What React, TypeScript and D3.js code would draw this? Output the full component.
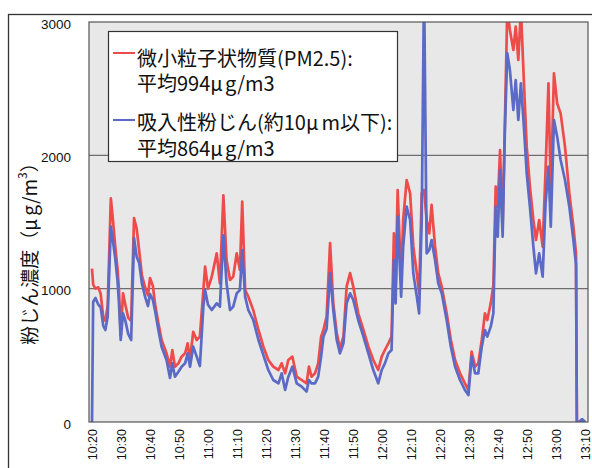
import * as d3 from 'd3';

// minutes after 10:20
const minutes = [0, 0.4, 1.2, 2.2, 3.0, 3.9, 4.6, 5.4, 6.5, 7.2, 8.0, 8.8, 9.3, 9.9, 10.7, 11.5, 12.5, 13.5, 14.5, 15.4, 16.3, 17.2, 18.3, 19.3, 20.0, 21.0, 21.7, 22.9, 24.0, 25.7, 26.9, 27.7, 28.6, 29.8, 30.9, 32.1, 33.0, 33.8, 34.9, 36.1, 37.2, 38.4, 39.0, 40.0, 41.3, 43.0, 44.1, 45.3, 46.4, 47.6, 48.7, 49.9, 51.0, 51.8, 52.8, 53.9, 55.6, 57.4, 59.1, 60.8, 62.5, 64.3, 65.4, 66.6, 67.7, 69.1, 70.6, 72.3, 74.0, 74.8, 75.7, 76.9, 78.0, 79.0, 79.8, 80.9, 82.1, 83.2, 84.4, 85.5, 86.7, 87.8, 89.0, 90.1, 91.8, 93.6, 95.3, 97.0, 98.7, 99.9, 101.0, 102.2, 103.3, 104.1, 104.7, 105.4, 106.6, 107.3, 108.5, 109.7, 110.8, 112.0, 112.8, 113.7, 114.5, 115.4, 116.3, 117.1, 118.3, 119.4, 120.6, 122.3, 123.7, 125.2, 126.9, 128.6, 129.8, 130.9, 132.1, 133.2, 134.4, 135.5, 136.3, 137.5, 138.4, 139.2, 139.9, 140.7, 141.6, 142.4, 143.2, 144.1, 145.3, 146.1, 147.0, 147.9, 149.0, 149.9, 151.0, 152.2, 153.1, 154.2, 155.4, 156.4, 157.4, 158.2, 159.3, 160.4, 161.6, 163.1, 164.6, 166.0, 166.9, 167.2, 168.0, 169.0, 170.0];

const pm25 = [1150, 1030, 1000, 1010, 960, 780, 760, 870, 1677, 1520, 1320, 1150, 990, 650, 965, 880, 780, 760, 1530, 1450, 1280, 1100, 1010, 950, 1080, 1020, 890, 740, 615, 515, 415, 540, 415, 440, 490, 515, 590, 465, 677, 615, 640, 990, 1165, 1000, 1090, 1265, 1040, 1700, 1215, 1065, 1090, 1265, 1140, 1653, 990, 940, 840, 690, 565, 465, 415, 390, 440, 365, 465, 490, 340, 315, 290, 415, 340, 365, 440, 640, 690, 790, 1342, 890, 665, 552, 640, 1015, 1117, 1015, 815, 690, 565, 465, 390, 490, 540, 590, 640, 1415, 1015, 1740, 1065, 1515, 1815, 1715, 1315, 1115, 965, 1715, 1740, 1515, 1415, 1628, 1315, 1115, 1015, 815, 620, 465, 365, 290, 240, 528, 415, 440, 615, 815, 765, 890, 1027, 1765, 1615, 2040, 1465, 2265, 3100, 2940, 2790, 2965, 2715, 3100, 2515, 2065, 1765, 1515, 1365, 1515, 1315, 1890, 2540, 1715, 2615, 2390, 2315, 2065, 1715, 1465, 1265, 0, 0, 20, 0];

const pm10 = [0, 900, 930, 880, 860, 720, 690, 790, 1465, 1360, 1230, 1060, 890, 615, 815, 760, 660, 615, 1380, 1240, 1190, 1040, 940, 870, 960, 915, 840, 690, 565, 465, 330, 440, 340, 377, 415, 440, 515, 415, 565, 490, 420, 865, 990, 880, 840, 890, 865, 1400, 1040, 840, 865, 965, 990, 1290, 940, 840, 765, 615, 502, 390, 315, 290, 365, 240, 340, 415, 290, 265, 228, 315, 290, 290, 340, 490, 640, 700, 1117, 840, 615, 515, 590, 890, 965, 915, 765, 640, 515, 390, 290, 390, 440, 515, 540, 1215, 890, 1540, 940, 1315, 1615, 1515, 1115, 940, 815, 1515, 3300, 1265, 1290, 1365, 1215, 1040, 965, 765, 570, 415, 315, 240, 202, 490, 365, 365, 565, 690, 640, 715, 815, 1615, 1390, 1890, 1390, 2215, 2765, 2640, 2340, 2565, 2265, 2540, 2190, 1865, 1615, 1315, 1115, 1265, 1090, 1640, 1915, 1465, 2265, 2140, 1965, 1815, 1615, 1365, 1180, 0, 0, 20, 0];

const tickLabels = ['10:20', '10:30', '10:40', '10:50', '11:00', '11:10', '11:20', '11:30', '11:40', '11:50', '12:00', '12:10', '12:20', '12:30', '12:40', '12:50', '13:00', '13:10'];
const yTicks = [0, 1000, 2000, 3000];

const RED = '#ee4b4b';
const BLUE = '#5a6ac6';
const JP = '"Noto Sans CJK JP", "Noto Sans", sans-serif';
const NUM = '"Liberation Sans", Arial, sans-serif';

export default function App() {
  const left = 89, right = 588, top = 22, bottom = 422;
  const x = d3.scaleLinear().domain([0, 170]).range([92, 585]);
  const y = d3.scaleLinear().domain([0, 3000]).range([bottom, top]);
  const line = (vals: number[]) =>
    d3.line<number>().x((_, i) => x(minutes[i])).y(d => y(d))(vals) || '';

  return (
    <svg width={592} height={468} style={{ position: 'absolute', left: 0, top: 0, background: '#fff' }}>
      <defs>
        <clipPath id="plot">
          <rect x={left} y={top} width={right - left} height={bottom - top} />
        </clipPath>
      </defs>
      <rect x={8.5} y={14.5} width={620} height={480} fill="#fff" stroke="#333" strokeWidth={1.3} />
      <rect x={left} y={top} width={right - left} height={bottom - top} fill="#e8e8e8" />
      {[1000, 2000].map(v => (
        <line key={v} x1={left} x2={right} y1={y(v)} y2={y(v)} stroke="#6e6e6e" strokeWidth={1.2} />
      ))}
      <g clipPath="url(#plot)" fill="none" strokeLinejoin="round">
        <path d={line(pm25)} stroke={RED} strokeWidth={2.7} />
        <path d={line(pm10)} stroke={BLUE} strokeWidth={2.7} />
      </g>
      <rect x={left} y={top} width={right - left} height={bottom - top} fill="none" stroke="#555" strokeWidth={1.2} />
      {yTicks.map(v => (
        <text key={v} x={71} y={y(v) + 2} textAnchor="end" dominantBaseline="central"
          fontFamily={NUM} fontSize={13.5} fill="#111">{v}</text>
      ))}
      {tickLabels.map((t, i) => (
        <text key={t} transform={`translate(${x(i * 10)},429) rotate(-90)`} textAnchor="end" dy="0.36em"
          fontFamily={NUM} fontSize={12.5} fill="#111">{t}</text>
      ))}
      <text transform="translate(28,249) rotate(-90)" textAnchor="middle" dominantBaseline="central"
        fontFamily={JP} fontSize={19} fill="#111">
        粉じん濃度（μ<tspan dx={3}>g/m</tspan><tspan dy={-7} fontSize={12}>3</tspan><tspan dy={7}>）</tspan>
      </text>
      <rect x={108.5} y={31.5} width={289} height={130} fill="#fff" stroke="#333" strokeWidth={1.2} />
      <line x1={113} x2={135} y1={53} y2={53} stroke={RED} strokeWidth={2} />
      <line x1={113} x2={135} y1={120} y2={120} stroke={BLUE} strokeWidth={2} />
      <g fontFamily={JP} fontSize={20} fill="#111">
        <text x={137} y={66}>
          微小粒子状物質(PM2.5):
          <tspan x={137} dy={24.5}>平均994μ</tspan><tspan dx={2}>g/m3</tspan>
        </text>
        <text x={137} y={130}>
          吸入性粉じん(約10μ<tspan dx={3}>m以下):</tspan>
          <tspan x={137} dy={26}>平均864μ</tspan><tspan dx={2}>g/m3</tspan>
        </text>
      </g>
    </svg>
  );
}
